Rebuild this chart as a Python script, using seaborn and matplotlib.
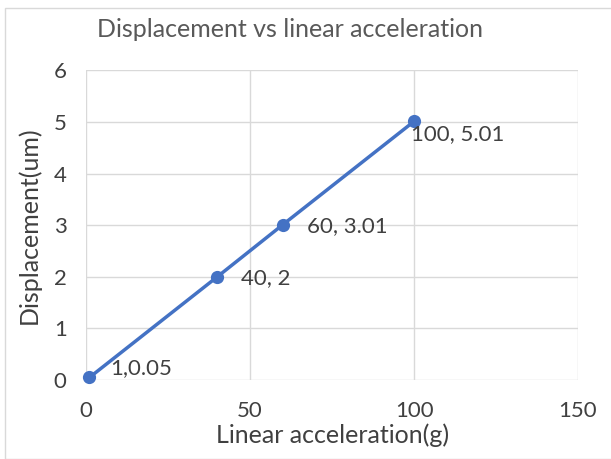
import matplotlib
matplotlib.use("Agg")
import matplotlib.pyplot as plt
import seaborn as sns
import pandas as pd
from matplotlib.patches import Rectangle

accel = [1, 40, 60, 100]
disp = [0.05, 2, 3.01, 5.01]
point_labels = ["1,0.05", "40, 2", "60, 3.01", "100, 5.01"]
x_ticks = [0, 50, 100, 150]
y_ticks = [0, 1, 2, 3, 4, 5, 6]

sns.set_theme(style="white")
plt.rcParams['font.family'] = ['Lato', 'DejaVu Sans']

df = pd.DataFrame({"accel": accel, "disp": disp})

fig = plt.figure(figsize=(6.11, 4.59), dpi=100)
ax = fig.add_axes([0.141, 0.172, 0.805, 0.675])
fig.patches.append(Rectangle((5/611, 0), 1, 1 - 8/459, transform=fig.transFigure,
                             fill=False, edgecolor="#D9D9D9", linewidth=1))

sns.lineplot(data=df, x="accel", y="disp", ax=ax, color="#4472C4", linewidth=2.5,
             marker="o", markersize=9.5, markeredgewidth=0)

ax.set_xlim(0, 150)
ax.set_ylim(0, 6)
ax.set_xticks(x_ticks)
ax.set_yticks(y_ticks)
ax.grid(True, color="#D9D9D9", linewidth=1)
ax.set_axisbelow(True)
for s in ax.spines.values():
    s.set_visible(False)
ax.tick_params(axis="both", length=0, labelsize=16, labelcolor="#404040")
ax.tick_params(axis="y", pad=14)
ax.tick_params(axis="x", pad=15)
ax.set_xlabel("Linear acceleration(g)", fontsize=18, color="#404040", labelpad=2)
ax.set_ylabel("Displacement(um)", fontsize=18, color="#404040", labelpad=9)

offsets = [(15, 7), (17, -1), (17, -1), (-2, -9)]
for xv, yv, lab, (dx, dy) in zip(accel, disp, point_labels, offsets):
    ax.annotate(lab, (xv, yv), xytext=(dx, dy), textcoords="offset points",
                fontsize=16, color="#404040", va="center", ha="left")

fig.text(0.475, 0.935, "Displacement vs linear acceleration", ha="center", va="center",
         fontsize=18, color="#595959")
for line in ax.lines:
    line.set_clip_on(False)

fig.savefig("out.png", dpi=100)
